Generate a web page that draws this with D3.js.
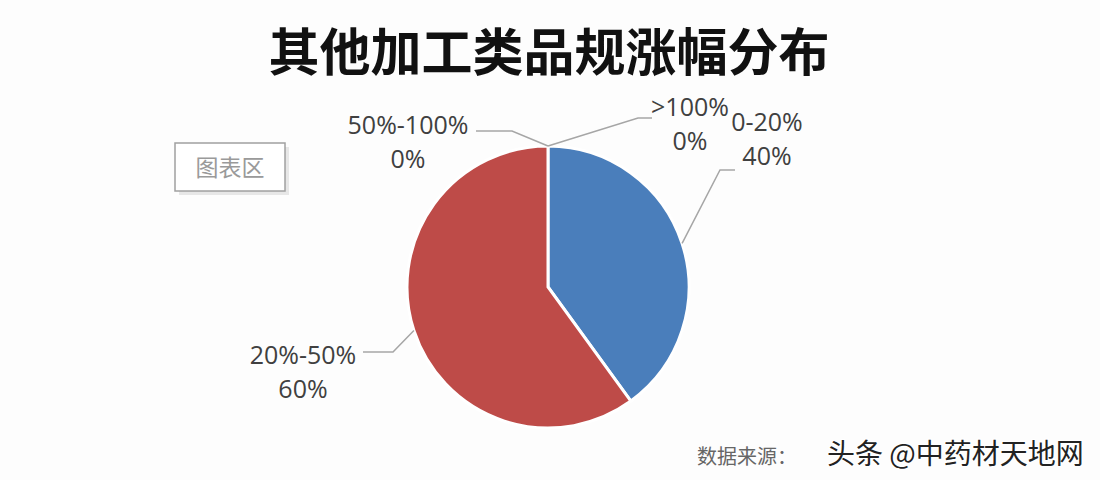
<!DOCTYPE html>
<html><head><meta charset="utf-8">
<script src="https://cdn.jsdelivr.net/npm/d3@7"></script>
<style>body{margin:0;background:#fff;}svg{display:block;}</style>
</head><body>
<svg id="chart" width="1100" height="480"></svg>
<script>
const title = "其他加工类品规涨幅分布";
const categories = ["0-20%", "20%-50%", "50%-100%", ">100%"];
const values = [40, 60, 0, 0];
const valueLabels = ["40%", "60%", "0%", "0%"];
const colors = ["#4a7ebb", "#be4b48", "#9bbb59", "#8064a2"];

const svg = d3.select("#chart");
const W = 1100, H = 480;
svg.append("rect").attr("width", W).attr("height", H).attr("fill", "#fdfdfd");

svg.append("text").attr("x", 549).attr("y", 71).attr("text-anchor", "middle")
  .attr("font-family", "'Noto Sans CJK SC'").attr("font-weight", 700)
  .attr("font-size", 51).attr("fill", "#111").text(title);

// chart area tooltip box
const box = svg.append("g");
box.append("rect").attr("x", 179).attr("y", 147).attr("width", 110).attr("height", 48).attr("fill", "#d8d8d8").attr("opacity", 0.6);
box.append("rect").attr("x", 175).attr("y", 143).attr("width", 110).attr("height", 48).attr("fill", "#fff").attr("stroke", "#a0a0a0").attr("stroke-width", 1.5);
box.append("text").attr("x", 230).attr("y", 176).attr("text-anchor", "middle")
  .attr("font-family", "'Noto Sans CJK SC'").attr("font-size", 23).attr("fill", "#9a9a9a").text("图表区");

const cx = 548, cy = 287, r = 141;
const data = categories.map((c, i) => ({cat: c, v: values[i], label: valueLabels[i], color: colors[i]}));
const pie = d3.pie().value(d => d.v).sort(null);
const arcs = pie(data);
const arc = d3.arc().innerRadius(0).outerRadius(r);
const g = svg.append("g").attr("transform", `translate(${cx},${cy})`);
g.selectAll("path").data(arcs).enter().append("path")
  .attr("d", arc).attr("fill", d => d.data.color)
  .attr("stroke", "#fff").attr("stroke-width", d => d.data.v > 0 ? 3 : 0);

// labels: positions for each category (label center and leader elbow)
const labelPos = {
  "0-20%": {x: 767, y: 131, elbow: [720, 170], end: [735, 170]},
  "20%-50%": {x: 303, y: 364, elbow: [393, 352], end: [363, 352]},
  "50%-100%": {x: 408, y: 134, elbow: [512, 131], end: [476, 131]},
  ">100%": {x: 690, y: 116, elbow: [638, 118], end: [652, 118]}
};
const outer = d3.arc().innerRadius(r).outerRadius(r);
arcs.forEach(a => {
  const p = labelPos[a.data.cat];
  const c = outer.centroid(a);
  const sx = cx + c[0], sy = cy + c[1];
  svg.append("polyline")
    .attr("points", [[sx, sy], p.elbow, p.end].map(q => q.join(",")).join(" "))
    .attr("fill", "none").attr("stroke", "#a6a6a6").attr("stroke-width", 1.5);
  const t = svg.append("text").attr("text-anchor", "middle")
    .attr("font-family", "'Open Sans'").attr("font-size", 25).attr("fill", "#404040");
  t.append("tspan").attr("x", p.x).attr("y", p.y).text(a.data.cat);
  t.append("tspan").attr("x", p.x).attr("y", p.y + 34).text(a.data.label);
});

svg.append("text").attr("x", 697).attr("y", 464)
  .attr("font-family", "'Noto Sans CJK SC'").attr("font-size", 20).attr("fill", "#666").text("数据来源：");
svg.append("text").attr("x", 827).attr("y", 464)
  .attr("font-family", "'Noto Sans CJK SC'").attr("font-size", 28).attr("fill", "#222")
  .attr("stroke", "#fff").attr("stroke-width", 2.5).attr("paint-order", "stroke").text("头条 @中药材天地网");
</script>
</body></html>
